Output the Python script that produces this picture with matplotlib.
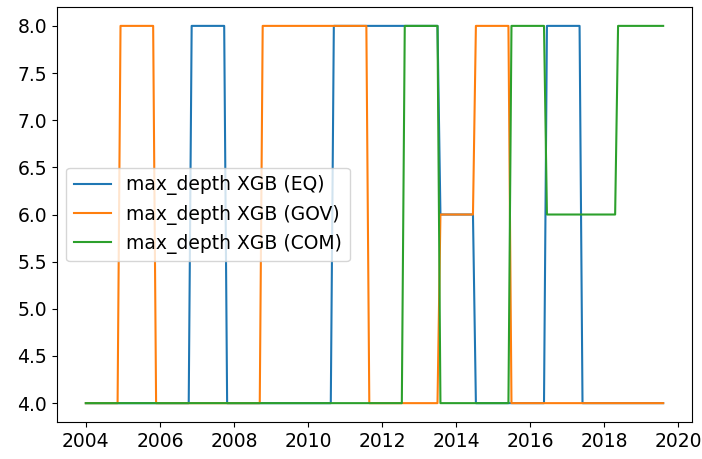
import pandas as pd
import matplotlib
matplotlib.use("Agg")
import matplotlib.pyplot as plt

# Fechas y valores de max_depth en cada cambio de nivel
fechas_eq = ["2004-01-01", "2006-10-12", "2006-11-10", "2007-09-27", "2007-10-26",
             "2010-08-14", "2010-09-13", "2013-07-02", "2013-07-31", "2014-06-17",
             "2014-07-16", "2016-05-18", "2016-06-16", "2017-05-04", "2017-06-02",
             "2019-08-07"]
valores_eq = [4, 4, 8, 8, 4, 4, 8, 8, 6, 6, 4, 4, 8, 8, 4, 4]

fechas_gov = ["2004-01-01", "2004-11-09", "2004-12-08", "2005-10-26", "2005-11-24",
              "2008-09-12", "2008-10-11", "2011-07-31", "2011-08-29", "2013-07-02",
              "2013-07-31", "2014-06-17", "2014-07-16", "2015-06-02", "2015-07-02",
              "2019-08-07"]
valores_gov = [4, 4, 8, 8, 4, 4, 8, 8, 4, 4, 6, 6, 8, 8, 4, 4]

fechas_com = ["2004-01-01", "2012-07-15", "2012-08-13", "2013-07-02", "2013-07-31",
              "2015-06-02", "2015-07-02", "2016-05-18", "2016-06-16", "2018-04-20",
              "2018-05-19", "2019-08-07"]
valores_com = [4, 4, 8, 8, 4, 4, 8, 8, 6, 6, 8, 8]

plt.rcParams['font.size'] = 13.5

fig = plt.figure(figsize=(7.02, 4.59), dpi=100)
ax = fig.add_axes([0.0812, 0.0806, 0.9046, 0.9041])

ax.plot(pd.to_datetime(fechas_eq), valores_eq, color='#1f77b4', label='max_depth XGB (EQ)')
ax.plot(pd.to_datetime(fechas_gov), valores_gov, color='#ff7f0e', label='max_depth XGB (GOV)')
ax.plot(pd.to_datetime(fechas_com), valores_com, color='#2ca02c', label='max_depth XGB (COM)')

ax.legend(loc='center left')

fig.savefig('out.png', dpi=100)
